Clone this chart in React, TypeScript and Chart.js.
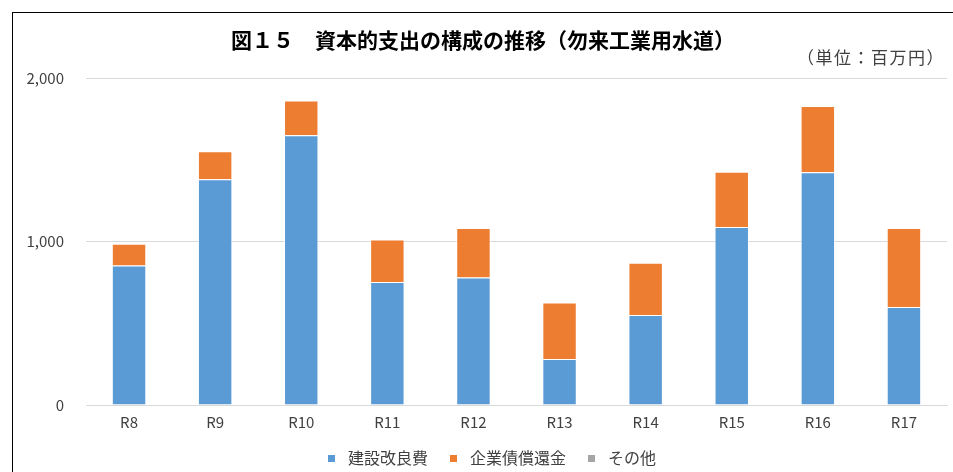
import React, { useEffect, useRef } from "react";
import { Chart, registerables } from "chart.js";

Chart.register(...registerables);

const categories = ["R8", "R9", "R10", "R11", "R12", "R13", "R14", "R15", "R16", "R17"];
const kensetsu = [853, 1381, 1650, 752, 780, 281, 550, 1088, 1424, 599];
const kisaishokan = [133, 171, 212, 260, 302, 346, 320, 338, 405, 483];
const sonota = [0, 0, 0, 0, 0, 0, 0, 0, 0, 0];
const seriesNames = ["建設改良費", "企業債償還金", "その他"];
const seriesColors = ["#5b9bd5", "#ed7d31", "#a5a5a5"];
const yTicks = [0, 1000, 2000];
const titleText = "図１５　資本的支出の構成の推移（勿来工業用水道）";
const unitText = "（単位：百万円）";

const FONT = "'Noto Sans CJK JP', 'Noto Sans', sans-serif";

function makeSwatch(color: string): HTMLCanvasElement {
  const c = document.createElement("canvas");
  c.width = 7;
  c.height = 7;
  const ctx = c.getContext("2d");
  if (ctx) {
    ctx.fillStyle = color;
    ctx.fillRect(0, 0, 7, 7);
  }
  return c;
}

const shiftLegend = {
  id: "shiftLegend",
  afterLayout(chart: any) {
    if (chart.legend) {
      chart.legend.left += 6;
      chart.legend.right += 6;
    }
  },
};

export default function App() {
  const ref = useRef<HTMLCanvasElement | null>(null);

  useEffect(() => {
    if (!ref.current) return;
    const swatches = seriesColors.map(makeSwatch);
    const chart = new Chart(ref.current, {
      type: "bar",
      data: {
        labels: categories,
        datasets: [
          {
            label: seriesNames[0],
            data: kensetsu,
            backgroundColor: seriesColors[0],
            borderColor: "rgba(255,255,255,0.7)",
            borderWidth: 1,
          },
          {
            label: seriesNames[1],
            data: kisaishokan,
            backgroundColor: seriesColors[1],
            borderColor: "rgba(255,255,255,0.7)",
            borderWidth: 1,
          },
          {
            label: seriesNames[2],
            data: sonota,
            backgroundColor: seriesColors[2],
            borderWidth: 0,
          },
        ],
      },
      options: {
        animation: false,
        responsive: false,
        maintainAspectRatio: false,
        layout: { padding: { left: 20, right: 6, top: 78, bottom: 0 } },
        datasets: { bar: { categoryPercentage: 0.8, barPercentage: 0.5 } },
        scales: {
          x: {
            stacked: true,
            grid: { display: false, drawTicks: false },
            border: { display: true, color: "#d9d9d9", width: 1 },
            ticks: { color: "#404040", font: { family: FONT, size: 15 }, padding: 8 },
            afterFit: (axis: any) => {
              axis.height = 28;
            },
          },
          y: {
            stacked: true,
            min: 0,
            max: 2000,
            afterBuildTicks: (axis: any) => {
              axis.ticks = yTicks.map((v) => ({ value: v }));
            },
            afterFit: (axis: any) => {
              axis.width = 66;
            },
            grid: { color: "#d9d9d9", lineWidth: 1, drawTicks: false },
            border: { display: false },
            ticks: {
              color: "#404040",
              font: { family: FONT, size: 15 },
              padding: 22,
              callback: (v: any) => Number(v).toLocaleString("en-US"),
            },
          },
        },
        plugins: {
          legend: {
            position: "bottom",
            labels: {
              usePointStyle: true,
              pointStyleWidth: 17,
              boxHeight: 7,
              color: "#404040",
              font: { family: FONT, size: 16 },
              padding: 17,
              generateLabels: (c: any) => {
                const items = (Chart.defaults.plugins.legend.labels as any).generateLabels(c);
                items.forEach((it: any, i: number) => {
                  it.pointStyle = swatches[i];
                });
                return items;
              },
            },
          },
          tooltip: { enabled: false },
          title: { display: false },
        },
      },
      plugins: [shiftLegend],
    });
    return () => chart.destroy();
  }, []);

  return (
    <div style={{ position: "fixed", left: 0, top: 0, width: 953, height: 472, background: "#fff", overflow: "hidden" }}>
      <canvas ref={ref} width={953} height={476} style={{ position: "absolute", left: 0, top: 0, width: 953, height: 476 }} />
      <div
        style={{
          position: "absolute",
          left: 12,
          top: 12,
          width: 960,
          height: 480,
          borderTop: "1px solid #000",
          borderLeft: "1px solid #000",
          pointerEvents: "none",
        }}
      />
      <div
        style={{
          position: "absolute",
          left: 0,
          width: 966,
          top: 28,
          textAlign: "center",
          fontFamily: FONT,
          fontWeight: 700,
          fontSize: 21,
          lineHeight: "22px",
          color: "#000",
          whiteSpace: "nowrap",
        }}
      >
        {titleText}
      </div>
      <div
        style={{
          position: "absolute",
          right: 8,
          top: 48,
          fontFamily: FONT,
          fontSize: 17,
          letterSpacing: 1.5,
          lineHeight: "18px",
          color: "#404040",
          whiteSpace: "nowrap",
        }}
      >
        {unitText}
      </div>
    </div>
  );
}
